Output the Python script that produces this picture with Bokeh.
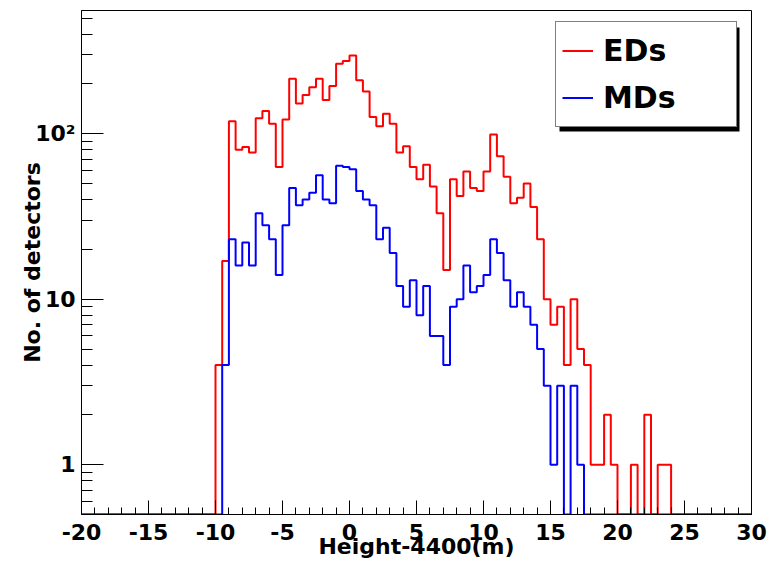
import numpy as np
from bokeh.plotting import figure
from bokeh.models import (Range1d, FixedTicker, Legend, LegendItem,
                          BoxAnnotation, Title)
from bokeh.embed import file_html
from bokeh.resources import INLINE

# ---------------- data ----------------
X_START, X_END = -20, 30
BIN_WIDTH = 0.5
Y_MIN, Y_MAX = 0.5, 555

# counts per 0.5 m bin, from -20 to 30 (100 bins)
ed_counts = [0] * 20 + [
    4, 17, 119, 80, 83, 77, 124, 137, 115, 63,
    122, 215, 152, 171, 191, 215, 160, 194, 265, 275,
    297, 210, 180, 126, 111, 132, 115, 77, 84, 63,
    53, 65, 48, 33, 15, 53, 42, 59, 47, 45,
    59, 99, 73, 55, 38, 41, 50, 36, 23, 10,
    7, 9, 4, 10, 5, 4, 1, 1, 2, 1,
    0, 0, 1, 0, 2, 0, 1, 1] + [0] * 12

md_counts = [0] * 20 + [
    0, 4, 23, 16, 22, 16, 33, 28, 23, 14,
    28, 47, 37, 40, 44, 56, 40, 38, 64, 63,
    61, 45, 40, 37, 23, 27, 19, 12, 9, 13,
    8, 12, 6, 6, 4, 9, 10, 16, 11, 12,
    14, 23, 19, 13, 9, 11, 9, 7, 5, 3,
    1, 3, 0, 3, 1] + [0] * 25

series_names = ["EDs", "MDs"]
series_colors = ["#ff0000", "#0000ff"]
x_major_ticks = list(range(-20, 31, 5))
x_tick_labels = ["-20", "-15", "-10", "-5", "0", "5", "10", "15", "20", "25", "30"]
x_minor_ticks = list(range(-20, 31, 1))
y_major_ticks = [1, 10, 100]
y_tick_labels = ["1", "10", "10\u00b2"]
y_minor_ticks = [0.6, 0.7, 0.8, 0.9] + [2, 3, 4, 5, 6, 7, 8, 9] + \
                [20, 30, 40, 50, 60, 70, 80, 90] + [200, 300, 400, 500]
x_title = "Height-4400(m)"
y_title = "No. of detectors"

FONT = "DejaVu Sans"

# ---------------- figure ----------------
p = figure(width=767, height=566,
           x_range=Range1d(X_START, X_END), y_range=Range1d(Y_MIN, Y_MAX),
           y_axis_type="log", output_backend="svg", toolbar_location=None,
           min_border_left=81, min_border_right=16, min_border_top=10,
           min_border_bottom=52)
p.background_fill_color = "white"
p.border_fill_color = "white"
p.xgrid.visible = False
p.ygrid.visible = False
p.outline_line_color = "black"
p.outline_line_width = 1


def step_xy(counts):
    n = len(counts)
    edges = X_START + BIN_WIDTH * np.arange(n + 1)
    ys = np.maximum(np.array(list(counts) + [counts[-1]], dtype=float), Y_MIN)
    return edges, ys


renderers = []
for counts, color in zip([ed_counts, md_counts], series_colors):
    xs, ys = step_xy(counts)
    r = p.step(xs, ys, mode="after", line_color=color, line_width=2)
    renderers.append(r)

# axes
p.xaxis.ticker = FixedTicker(ticks=x_major_ticks, minor_ticks=x_minor_ticks)
p.xaxis.major_label_overrides = {t: l for t, l in zip(x_major_ticks, x_tick_labels)}
p.yaxis.ticker = FixedTicker(ticks=y_major_ticks, minor_ticks=y_minor_ticks)
p.yaxis.major_label_overrides = {t: l for t, l in zip(y_major_ticks, y_tick_labels)}

for ax in (p.xaxis, p.yaxis):
    ax.axis_line_color = "black"
    ax.major_tick_line_color = "black"
    ax.minor_tick_line_color = "black"
    ax.major_tick_out = 0
    ax.minor_tick_out = 0
    ax.major_label_text_font = FONT
    ax.major_label_text_font_style = "bold"
    ax.major_label_text_font_size = "22px"
    ax.major_label_text_color = "black"

p.xaxis.major_tick_in = 14
p.xaxis.minor_tick_in = 7
p.xaxis.major_label_standoff = 9
p.yaxis.major_tick_in = 22
p.yaxis.minor_tick_in = 11
p.yaxis.major_label_standoff = 6

# x title
p.xaxis.axis_label = x_title
p.xaxis.axis_label_standoff = -9
p.xaxis.axis_label_text_font = FONT
p.xaxis.axis_label_text_font_style = "bold"
p.xaxis.axis_label_text_font_size = "22px"
p.xaxis.axis_label_text_color = "black"

# y title
p.add_layout(Title(text=y_title, align="center", standoff=-24,
                   text_font=FONT, text_font_style="bold",
                   text_font_size="22px", text_color="black"), "left")

# legend shadow
p.add_layout(BoxAnnotation(left=478, right=658, bottom=383, top=487,
                           left_units="screen", right_units="screen",
                           bottom_units="screen", top_units="screen",
                           fill_color="black", fill_alpha=1.0,
                           line_color=None))

legend = Legend(items=[LegendItem(label=n, renderers=[r])
                       for n, r in zip(series_names, renderers)],
                location=(474, 387), margin=0, padding=6, spacing=2,
                glyph_width=31, glyph_height=45, label_height=45,
                label_width=127, label_standoff=10,
                border_line_color="black", border_line_width=1,
                background_fill_color="white", background_fill_alpha=1.0,
                label_text_font=FONT, label_text_font_style="bold",
                label_text_font_size="30px", label_text_color="black")
p.add_layout(legend)

open("out.html", "w").write(file_html(p, INLINE))
